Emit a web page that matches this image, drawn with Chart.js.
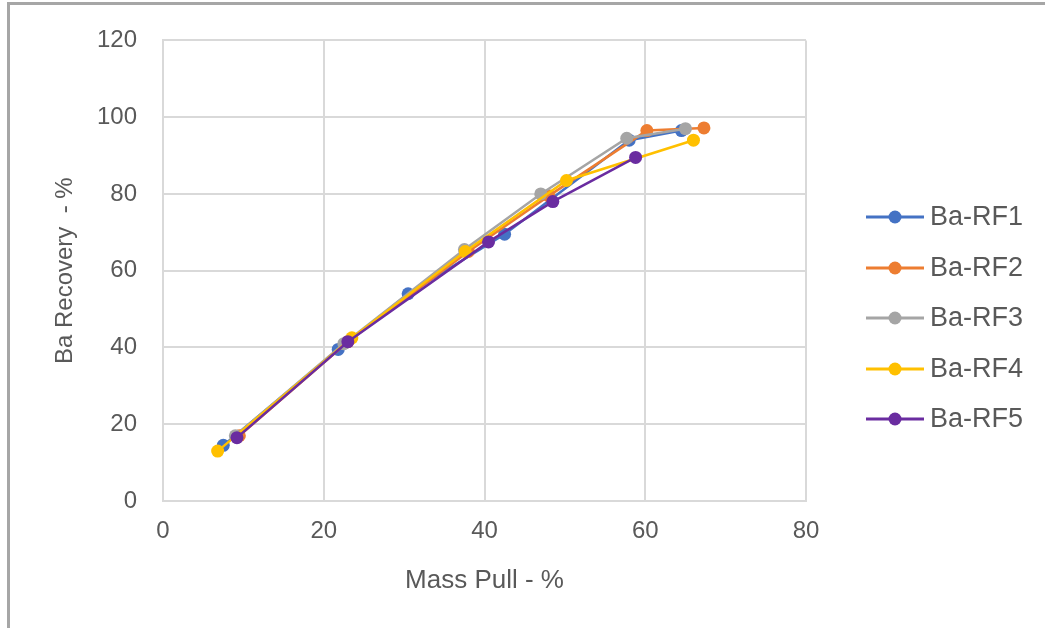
<!DOCTYPE html>
<html>
<head>
<meta charset="utf-8">
<script src="https://cdn.jsdelivr.net/npm/chart.js@4/dist/chart.umd.min.js"></script>
<style>
  html, body { margin: 0; padding: 0; background: #fff; }
  #wrap { position: relative; width: 1050px; height: 628px; }
  #frame { position: absolute; left: 7px; top: 2px; width: 1038px; height: 626px;
           border-left: 3px solid #a6a6a6; border-top: 3px solid #a6a6a6; box-sizing: border-box; }
  canvas { position: absolute; left: 0; top: 0; }
</style>
</head>
<body>
<div id="wrap">
  <canvas id="chart" width="1050" height="628"></canvas>
  <div id="frame"></div>
</div>
<script>
const seriesNames = ['Ba-RF1', 'Ba-RF2', 'Ba-RF3', 'Ba-RF4', 'Ba-RF5'];
const seriesColors = ['#4472c4', '#ed7d31', '#a5a5a5', '#ffc000', '#6a2ca0'];

// mass pull (%) and Ba recovery (%) per test
const rf1Mass = [7.5, 21.8, 30.5, 42.5, 58.0, 64.5];
const rf1Rec  = [14.5, 39.5, 54.0, 69.5, 94.0, 96.5];
const rf2Mass = [9.5, 23.0, 38.0, 48.0, 60.2, 67.3];
const rf2Rec  = [17.0, 41.5, 65.0, 79.5, 96.5, 97.2];
const rf3Mass = [9.0, 22.5, 37.5, 47.0, 57.7, 65.0];
const rf3Rec  = [17.0, 41.0, 65.5, 80.0, 94.5, 97.0];
const rf4Mass = [6.8, 23.5, 37.6, 50.2, 66.0];
const rf4Rec  = [13.0, 42.5, 65.0, 83.5, 94.0];
const rf5Mass = [9.2, 23.0, 40.5, 48.5, 58.8];
const rf5Rec  = [16.5, 41.5, 67.5, 78.0, 89.5];

const massSets = [rf1Mass, rf2Mass, rf3Mass, rf4Mass, rf5Mass];
const recSets = [rf1Rec, rf2Rec, rf3Rec, rf4Rec, rf5Rec];

const FONT = 'Liberation Sans, Arial, sans-serif';
const TEXT = '#595959';

// Excel-style legend: short line with a marker in the middle
const sideLegend = {
  id: 'sideLegend',
  afterDraw(chart) {
    const ctx = chart.ctx;
    const rows = [217, 268, 318, 369, 419];
    ctx.save();
    seriesNames.forEach((name, i) => {
      const y = rows[i];
      ctx.strokeStyle = seriesColors[i];
      ctx.lineWidth = 3;
      ctx.beginPath();
      ctx.moveTo(866, y);
      ctx.lineTo(924, y);
      ctx.stroke();
      ctx.fillStyle = seriesColors[i];
      ctx.beginPath();
      ctx.arc(895, y, 6.5, 0, Math.PI * 2);
      ctx.fill();
      ctx.fillStyle = TEXT;
      ctx.font = '27px ' + FONT;
      ctx.textBaseline = 'middle';
      ctx.textAlign = 'left';
      ctx.fillText(name, 930, y + 1);
    });
    ctx.restore();
  },
};

new Chart(document.getElementById('chart'), {
  type: 'scatter',
  data: {
    datasets: seriesNames.map((name, i) => ({
      label: name,
      data: massSets[i].map((m, j) => ({ x: m, y: recSets[i][j] })),
      showLine: true,
      borderColor: seriesColors[i],
      backgroundColor: seriesColors[i],
      borderWidth: 2.5,
      pointRadius: 6.5,
      pointBorderWidth: 0,
      order: 5 - i,
    })),
  },
  options: {
    responsive: false,
    animation: false,
    layout: { padding: { left: 0, top: 38, right: 244, bottom: 0 } },
    plugins: { legend: { display: false }, tooltip: { enabled: false } },
    scales: {
      x: {
        min: 0, max: 80,
        afterFit(s) { s.height = 127; },
        grid: { color: '#d9d9d9', lineWidth: 2, drawTicks: false },
        border: { color: '#d9d9d9', width: 2 },
        ticks: { stepSize: 20, padding: 16, color: TEXT, font: { family: FONT, size: 24 } },
        title: { display: true, text: 'Mass Pull - %', color: TEXT,
                 font: { family: FONT, size: 26 }, padding: { top: 0, bottom: 32 } },
      },
      y: {
        min: 0, max: 120,
        afterFit(s) { s.width = 163; },
        grid: { color: '#d9d9d9', lineWidth: 2, drawTicks: false },
        border: { color: '#d9d9d9', width: 2 },
        ticks: { stepSize: 20, padding: 26, color: TEXT, font: { family: FONT, size: 24 } },
        title: { display: true, text: 'Ba Recovery  - %', color: TEXT,
                 font: { family: FONT, size: 24 }, padding: { top: 51, bottom: 0 } },
      },
    },
  },
  plugins: [sideLegend],
});
</script>
</body>
</html>
